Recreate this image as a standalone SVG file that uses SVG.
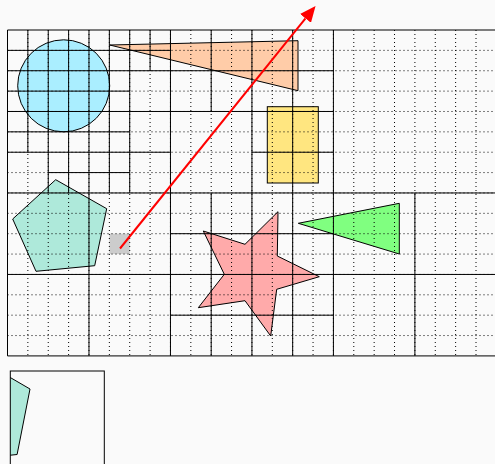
<svg xmlns="http://www.w3.org/2000/svg" width="495" height="464" viewBox="0 0 495 464">
<style>
.bg{fill:#fafafa}
.shape{stroke:#000;stroke-width:1}
.dot{fill:none;stroke:#000;stroke-width:1;stroke-dasharray:1 3}
.solid{fill:none;stroke:#000;stroke-width:1}
.arrow{fill:none;stroke:#f00;stroke-width:2}
</style>
<defs>
<marker id="head" markerUnits="userSpaceOnUse" viewBox="0 0 16 14" markerWidth="16" markerHeight="14" refX="0" refY="7" orient="auto">
<path d="M0,0 L16,7 L0,14 z" fill="#f00"/>
</marker>
<clipPath id="insetClip"><rect x="10.3" y="371" width="94" height="100"/></clipPath>
</defs>
<rect class="bg" x="0" y="0" width="495" height="464"/>

<g id="query-cell"><rect x="109.35" y="233.7" width="20.37" height="20.37" fill="#cccccc"/></g>
<g id="circle"><circle class="shape" cx="63.7" cy="85.8" r="46" fill="#aaeeff"/></g>
<g id="orange-triangle"><polygon class="shape" points="109.7,45 298,40.7 298,90.7" fill="#ffcca8"/></g>
<g id="yellow-rect"><rect class="shape" x="267.3" y="106.7" width="51" height="76.3" fill="#ffe680"/></g>
<g id="pentagon"><polygon class="shape" points="55.7,179.7 106.7,208.7 94.7,265.7 36,271.3 12.7,219" fill="#aee9da"/></g>
<g id="star"><polygon class="shape" points="203.3,231 245,244.3 278,211.7 277.3,256 319.3,276.7 276.7,289.3 270.7,336 245,300.7 198.3,307.7 224.3,274.3" fill="#ffaaaa"/></g>
<g id="green-triangle"><polygon class="shape" points="298.3,223.3 399.3,203.3 399.3,254" fill="#80ff80"/></g>

<g id="grid">
<path class="dot" d="M27.87 30V355.92M48.24 30V355.92M68.61 30V355.92M88.98 30V355.92M109.35 30V355.92M129.72 30V355.92M150.09 30V355.92M170.46 30V355.92M190.83 30V355.92M211.2 30V355.92M231.57 30V355.92M251.94 30V355.92M272.31 30V355.92M292.68 30V355.92M313.05 30V355.92M333.42 30V355.92M353.79 30V355.92M374.16 30V355.92M394.53 30V355.92M414.9 30V355.92M435.27 30V355.92M455.64 30V355.92M476.01 30V355.92
M7.5 50.37H496.38M7.5 70.74H496.38M7.5 91.11H496.38M7.5 111.48H496.38M7.5 131.85H496.38M7.5 152.22H496.38M7.5 172.59H496.38M7.5 192.96H496.38M7.5 213.33H496.38M7.5 233.7H496.38M7.5 254.07H496.38M7.5 274.44H496.38M7.5 294.81H496.38M7.5 315.18H496.38M7.5 335.55H496.38"/>
<path class="solid" d="M7.5 30H496.38M7.5 355.92H496.38M7.5 30V355.92
M333.42 30V355.92M170.46 30V355.92M88.98 30V355.92M251.94 30V355.92M414.9 192.96V355.92
M7.5 192.96H496.38M7.5 111.48H333.42M7.5 274.44H496.38
M48.24 30V192.96M7.5 70.74H333.42M129.72 30V192.96M7.5 152.22H170.46M251.94 152.22H333.42
M211.2 30V111.48M211.2 192.96V355.92M292.68 30V355.92M170.46 233.7H333.42M170.46 315.18H333.42
M27.87 30V152.22M68.61 30V192.96M109.35 30V192.96M150.09 30V70.74
M7.5 50.37H170.46M7.5 91.11H129.72M7.5 131.85H129.72M48.24 172.59H129.72"/>
</g>

<g id="inset">
<rect x="10.3" y="371" width="94" height="100" fill="#fafafa"/>
<polygon class="shape" clip-path="url(#insetClip)" points="-28.5,355 30,389 17.1,454.5 -50.7,461.5 -78.8,399.5" fill="#aee9da"/>
<rect class="solid" x="10.3" y="371" width="94" height="100"/>
</g>

<g id="connectors">
<line class="arrow" x1="120" y1="248.5" x2="305.5" y2="18.4" marker-end="url(#head)"/>
</g>
</svg>
